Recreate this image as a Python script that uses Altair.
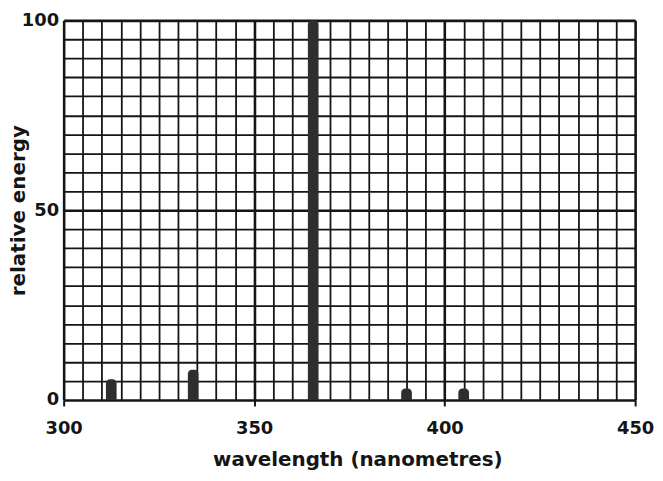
import altair as alt
import pandas as pd

wavelengths = [312.5, 334, 365.5, 390, 405]
energies = [5.5, 8, 100, 3, 3]
half_width = 1.4

x_ticks = list(range(300, 451, 5))
y_ticks = list(range(0, 101, 5))

df = pd.DataFrame({"wl": wavelengths, "energy": energies})
df["lo"] = df["wl"] - half_width
df["hi"] = df["wl"] + half_width

font = "DejaVu Sans"
ink = "#151515"

W, H = 575, 382

bars = alt.Chart(df).mark_bar(
    color="#2e2e2e", cornerRadiusTopLeft=4, cornerRadiusTopRight=4
).encode(
    x=alt.X("lo:Q", scale=alt.Scale(domain=[300, 450], nice=False, zero=False),
            axis=alt.Axis(
                values=x_ticks,
                labelExpr="datum.value % 50 === 0 ? datum.label : ''",
                labelFlush=False,
                title="wavelength (nanometres)",
                grid=True,
                gridColor=ink,
                gridOpacity=1,
                gridWidth={"condition": {"test": "datum.value % 50 === 0", "value": 2.6}, "value": 1.8},
                tickSize=6,
                tickOpacity={"condition": {"test": "datum.value % 50 === 0", "value": 1}, "value": 0},
                tickColor=ink,
                tickWidth=2,
                domain=False,
                labelFont=font, labelFontSize=18, labelFontWeight="bold", labelColor=ink,
                labelPadding=14,
                titleFont=font, titleFontSize=20, titleFontWeight="bold", titleColor=ink,
                titleX=W / 2 + 8, titleY=66, titleBaseline="alphabetic", titleAnchor="middle",
            )),
    x2="hi:Q",
    y=alt.Y("energy:Q", scale=alt.Scale(domain=[0, 100], nice=False),
            axis=alt.Axis(
                values=y_ticks,
                labelExpr="datum.value % 50 === 0 ? datum.label : ''",
                labelFlush=False,
                title="relative energy",
                grid=True,
                gridColor=ink,
                gridOpacity=1,
                gridWidth={"condition": {"test": "datum.value % 50 === 0", "value": 2.6}, "value": 1.8},
                tickSize=0,
                domain=False,
                labelFont=font, labelFontSize=18, labelFontWeight="bold", labelColor=ink,
                labelPadding=5,
                titleFont=font, titleFontSize=20, titleFontWeight="bold", titleColor=ink,
                titleX=-45, titleY=H / 2, titleAngle=270, titleBaseline="middle",
                titleAlign="center",
            )),
    y2=alt.Y2(datum=0),
)

chart = bars.properties(
    width=W, height=H,
    autosize=alt.AutoSizeParams(type="none"),
    padding={"left": 56, "top": 11, "right": 20, "bottom": 72},
).configure_view(stroke=ink, strokeWidth=3).configure(background="white")

chart.save("out.html", embed_options={"renderer": "svg", "actions": False})
